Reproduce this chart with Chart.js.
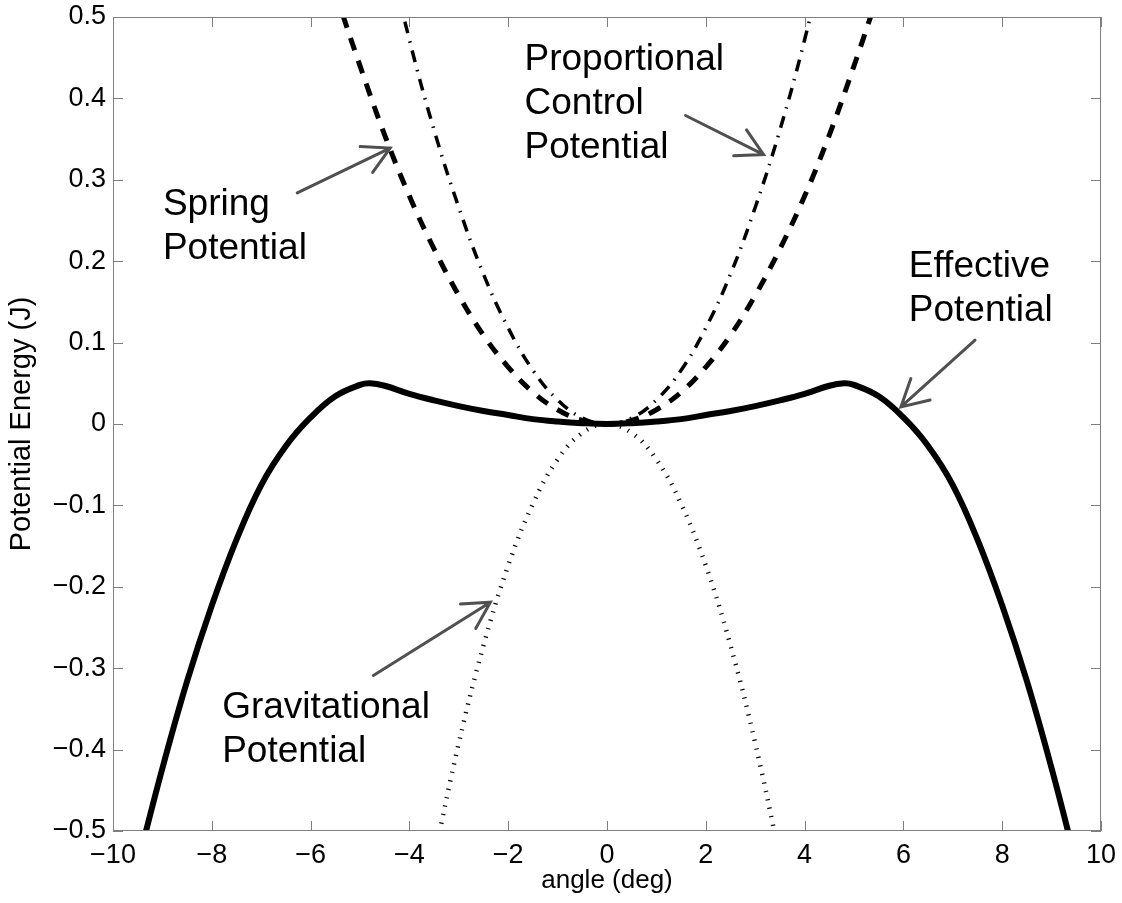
<!DOCTYPE html>
<html>
<head>
<meta charset="utf-8">
<script src="https://cdn.jsdelivr.net/npm/chart.js@4"></script>
<style>
  html, body { margin: 0; padding: 0; background: #fff; }
  #wrap { width: 1122px; height: 903px; }
</style>
</head>
<body>
<div id="wrap"><canvas id="chart"></canvas></div>
<script>
// values (angle in deg, energy in J)
const effX = [-9.5, -9, -8.5, -8, -7.5, -7, -6.5, -6, -5.5, -5, -4.8, -4.5, -4, -3.5, -3, -2.5, -2, -1.5, -1, -0.5,
              0, 0.5, 1, 1.5, 2, 2.5, 3, 3.5, 4, 4.5, 4.8, 5, 5.5, 6, 6.5, 7, 7.5, 8, 8.5, 9, 9.5];
const effY = [-0.540, -0.423, -0.316, -0.223, -0.142, -0.075, -0.027, 0.008, 0.034, 0.048, 0.050, 0.047, 0.037, 0.029, 0.022, 0.016, 0.011, 0.006, 0.003, 0.001,
              0, 0.001, 0.003, 0.006, 0.011, 0.016, 0.022, 0.029, 0.037, 0.047, 0.050, 0.048, 0.034, 0.008, -0.027, -0.075, -0.142, -0.223, -0.316, -0.423, -0.540];

const springX = [-5.5, -5, -4.5, -4, -3.5, -3, -2.5, -2, -1.5, -1, -0.5, 0, 0.5, 1, 1.5, 2, 2.5, 3, 3.5, 4, 4.5, 5, 5.5];
const springY = [0.53, 0.44, 0.355, 0.28, 0.215, 0.158, 0.109, 0.07, 0.039, 0.0175, 0.0044, 0, 0.0044, 0.0175, 0.039, 0.07, 0.109, 0.158, 0.215, 0.28, 0.355, 0.44, 0.53];

const propX = [-4.5, -4, -3.5, -3, -2.5, -2, -1.5, -1, -0.5, 0, 0.5, 1, 1.5, 2, 2.5, 3, 3.5, 4, 4.5];
const propY = [0.6, 0.472, 0.361, 0.266, 0.184, 0.118, 0.066, 0.0295, 0.0074, 0, 0.0074, 0.0295, 0.066, 0.118, 0.184, 0.266, 0.361, 0.472, 0.6];

const gravX = [-3.5, -3, -2.5, -2, -1.5, -1, -0.5, 0, 0.5, 1, 1.5, 2, 2.5, 3, 3.5];
const gravY = [-0.533, -0.392, -0.272, -0.174, -0.098, -0.0435, -0.011, 0, -0.011, -0.0435, -0.098, -0.174, -0.272, -0.392, -0.533];

const xTicks = [-10, -8, -6, -4, -2, 0, 2, 4, 6, 8, 10];
const yTicks = [-0.5, -0.4, -0.3, -0.2, -0.1, 0, 0.1, 0.2, 0.3, 0.4, 0.5];

// text labels with arrows: [lines, text x, text y, arrow tail, arrow tip] in data units
const notes = [
    [["Spring", "Potential"], -8.99, 0.2565, [-6.27, 0.284], [-4.39, 0.339]],
    [["Proportional", "Control", "Potential"], -1.67, 0.4347, [1.59, 0.379], [3.17, 0.331]],
    [["Effective", "Potential"], 6.11, 0.1803, [7.45, 0.103], [5.95, 0.021]],
    [["Gravitational", "Potential"], -7.79, -0.3608, [-4.73, -0.309], [-2.36, -0.219]],
];

const FONT = "'Liberation Sans', Arial, sans-serif";
const axisGrey = "#7f7f7f";
const arrowGrey = "#505050";

const pts = (xs, ys) => xs.map((x, i) => ({ x: x, y: ys[i] }));
const minus = (s) => s.replace("-", "\u2212");

const boxTicks = {
    id: "boxTicks",
    afterDatasetsDraw(chart) {
        const { ctx, chartArea: a, scales: { x, y } } = chart;
        ctx.save();
        ctx.strokeStyle = axisGrey;
        ctx.lineWidth = 1;
        ctx.strokeRect(a.left + 0.5, a.top + 0.5, a.right - a.left - 1, a.bottom - a.top - 1);
        ctx.beginPath();
        xTicks.forEach(v => {
            const px = Math.round(x.getPixelForValue(v)) + 0.5;
            ctx.moveTo(px, a.bottom); ctx.lineTo(px, a.bottom - 10);
            ctx.moveTo(px, a.top); ctx.lineTo(px, a.top + 10);
        });
        yTicks.forEach(v => {
            const py = Math.round(y.getPixelForValue(v)) + 0.5;
            ctx.moveTo(a.left, py); ctx.lineTo(a.left + 10, py);
            ctx.moveTo(a.right, py); ctx.lineTo(a.right - 10, py);
        });
        ctx.stroke();
        ctx.restore();
    },
};

const annotations = {
    id: "annotations",
    afterDraw(chart) {
        const { ctx, scales: { x, y } } = chart;
        ctx.save();
        ctx.font = `37px ${FONT}`;
        ctx.fillStyle = "#000";
        ctx.textAlign = "left";
        ctx.textBaseline = "alphabetic";
        notes.forEach(([lines, tx, ty, tail, tip]) => {
            const px = x.getPixelForValue(tx);
            const py = y.getPixelForValue(ty);
            lines.forEach((s, i) => ctx.fillText(s, px, py + i * 44));

            const x0 = x.getPixelForValue(tail[0]), y0 = y.getPixelForValue(tail[1]);
            const x1 = x.getPixelForValue(tip[0]), y1 = y.getPixelForValue(tip[1]);
            const ang = Math.atan2(y1 - y0, x1 - x0);
            const head = 30, spread = 0.5;
            ctx.strokeStyle = arrowGrey;
            ctx.lineWidth = 3;
            ctx.lineCap = "round";
            ctx.beginPath();
            ctx.moveTo(x0, y0); ctx.lineTo(x1, y1);
            ctx.moveTo(x1 - head * Math.cos(ang - spread), y1 - head * Math.sin(ang - spread));
            ctx.lineTo(x1, y1);
            ctx.lineTo(x1 - head * Math.cos(ang + spread), y1 - head * Math.sin(ang + spread));
            ctx.stroke();
        });
        ctx.restore();
    },
};

const line = (label, data, width, dash, tension) => ({
    label: label,
    data: data,
    borderColor: "#000",
    borderWidth: width,
    borderDash: dash,
    borderCapStyle: "butt",
    pointRadius: 0,
    tension: tension,
    clip: 0,
    fill: false,
});

new Chart(document.getElementById("chart"), {
    type: "line",
    data: {
        datasets: [
            line("Gravitational Potential", pts(gravX, gravY), 4.5, [1.2, 7.5], 0.4),
            line("Proportional Control Potential", pts(propX, propY), 3.5, [12, 8, 1.5, 8], 0.4),
            line("Spring Potential", pts(springX, springY), 5, [13, 11], 0.4),
            line("Effective Potential", pts(effX, effY), 6, [], 0.4),
        ],
    },
    options: {
        responsive: true,
        maintainAspectRatio: false,
        animation: false,
        events: [],
        layout: { padding: { top: 17, right: 21, left: 0, bottom: 0 } },
        plugins: {
            legend: { display: false },
            tooltip: { enabled: false },
        },
        scales: {
            x: {
                type: "linear",
                min: -10,
                max: 10,
                afterFit: (s) => { s.height = 72; s.paddingLeft = 0; s.paddingRight = 0; },
                afterBuildTicks: (s) => { s.ticks = xTicks.map(v => ({ value: v })); },
                grid: { display: false, drawTicks: false },
                border: { display: false },
                ticks: {
                    color: "#000",
                    font: { family: FONT, size: 27 },
                    padding: 8,
                    maxRotation: 0,
                    callback: (v) => minus(String(v)),
                },
                title: {
                    display: true,
                    text: "angle (deg)",
                    color: "#000",
                    font: { family: FONT, size: 26 },
                    padding: { top: 0, bottom: 7 },
                },
            },
            y: {
                type: "linear",
                min: -0.5,
                max: 0.5,
                afterFit: (s) => { s.width = 113; s.paddingTop = 0; s.paddingBottom = 0; },
                afterBuildTicks: (s) => { s.ticks = yTicks.map(v => ({ value: v })); },
                grid: { display: false, drawTicks: false },
                border: { display: false },
                ticks: {
                    color: "#000",
                    font: { family: FONT, size: 27 },
                    padding: 7,
                    callback: (v) => (Math.abs(v) < 1e-9 ? "0" : minus(v.toFixed(1))),
                },
                title: {
                    display: true,
                    text: "Potential Energy (J)",
                    color: "#000",
                    font: { family: FONT, size: 29 },
                    padding: { top: 5, bottom: 0 },
                },
            },
        },
    },
    plugins: [boxTicks, annotations],
});
</script>
</body>
</html>
